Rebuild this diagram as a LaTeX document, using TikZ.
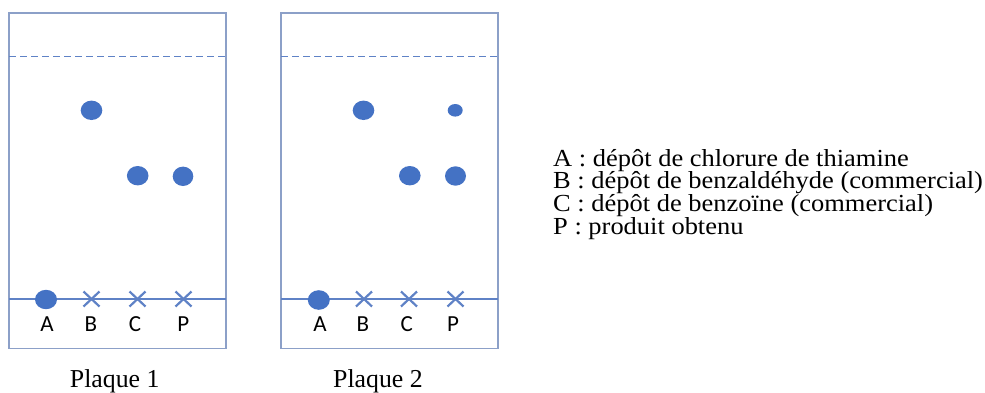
\documentclass[tikz,border=0pt]{standalone}
\usepackage{fontspec}
\setmainfont{Liberation Serif}
\newfontfamily\legfont{Liberation Serif}[FakeStretch=1.08]
\newfontfamily\lblfont{Carlito}
\usepackage{xcolor}
\usepackage{tikz}
\usetikzlibrary{calc}

\definecolor{spotblue}{RGB}{68,114,196}
\definecolor{lineblue}{RGB}{95,130,198}
\definecolor{edgeblue}{RGB}{140,160,200}

\begin{document}
\begin{tikzpicture}[x=1pt, y=-1pt,
    every node/.style={inner sep=0pt},
    plate/.style={edgeblue, line width=1.6pt},
    front/.style={lineblue, line width=1.2pt, dash pattern=on 7pt off 4pt},
    start/.style={lineblue, line width=1.1pt},
    depot/.style={lineblue, line width=2.2pt},
    lane/.style={font=\lblfont\fontsize{23}{24}\selectfont, anchor=base},
    caption/.style={font=\fontsize{25.8}{26}\selectfont, anchor=base},
    legend/.style={font=\legfont\fontsize{24.5}{22.8}\selectfont, align=left, anchor=base west}]
  \useasboundingbox (0,0) rectangle (985,392);

  % Corners of the two plates
  \coordinate (p1nw) at (9,13);
  \coordinate (p1se) at (226,348.5);
  \coordinate (p2nw) at (281,13);
  \coordinate (p2se) at (498,348.5);

  % Plate outlines
  \draw[plate] (p1nw) rectangle (p1se);
  \draw[plate] (p2nw) rectangle (p2se);

  % Solvent front (dashed) and start line
  \draw[front] (9,56.5) -- (226,56.5);
  \draw[front] (281,56.5) -- (498,56.5);
  \draw[start] (9,299) -- (226,299);
  \draw[start] (281,299) -- (498,299);

  % Deposit crosses, plate 1
  \draw[depot] (91.5,299) ++(-8,-7.5) -- ++(16,15) ++(0,-15) -- ++(-16,15);
  \draw[depot] (137.5,299) ++(-8,-7.5) -- ++(16,15) ++(0,-15) -- ++(-16,15);
  \draw[depot] (183.5,299) ++(-8,-7.5) -- ++(16,15) ++(0,-15) -- ++(-16,15);
  % Deposit crosses, plate 2
  \draw[depot] (364,299) ++(-8,-7.5) -- ++(16,15) ++(0,-15) -- ++(-16,15);
  \draw[depot] (409,299) ++(-8,-7.5) -- ++(16,15) ++(0,-15) -- ++(-16,15);
  \draw[depot] (455.5,299) ++(-8,-7.5) -- ++(16,15) ++(0,-15) -- ++(-16,15);

  % Spots on plate 1
  \fill[spotblue] (46,299.5) ellipse (11 and 9.7);
  \fill[spotblue] (91.5,110.3) ellipse (10.8 and 9.7);
  \fill[spotblue] (137.7,175.7) ellipse (10.8 and 9.7);
  \fill[spotblue] (183,176.3) ellipse (10.3 and 9.7);

  % Spots on plate 2
  \fill[spotblue] (318.8,300) ellipse (11 and 9.8);
  \fill[spotblue] (363.5,110.3) ellipse (10.8 and 9.7);
  \fill[spotblue] (455.2,110.3) ellipse (7.5 and 6.3);
  \fill[spotblue] (409.8,175.7) ellipse (10.8 and 9.7);
  \fill[spotblue] (455.5,176) ellipse (10.5 and 9.7);

  % Lane letters
  \node[lane] (l1A) at (47,331.5) {A};
  \node[lane] (l1B) at (90.8,331.5) {B};
  \node[lane] (l1C) at (135,331.5) {C};
  \node[lane] (l1P) at (183.3,331.5) {P};
  \node[lane] (l2A) at (320,331.5) {A};
  \node[lane] (l2B) at (363,331.5) {B};
  \node[lane] (l2C) at (406.7,331.5) {C};
  \node[lane] (l2P) at (453,331.5) {P};

  % Plate captions
  \node[caption] (cap1) at (114.7,387) {Plaque 1};
  \node[caption] (cap2) at (378,387) {Plaque 2};

  % Legend (base anchor sits on the last line)
  \node[legend] (leg) at (553,234.4) {A : dépôt de chlorure de thiamine\\
    B : dépôt de benzaldéhyde (commercial)\\
    C : dépôt de benzoïne (commercial)\\
    P : produit obtenu};
\end{tikzpicture}
\end{document}
